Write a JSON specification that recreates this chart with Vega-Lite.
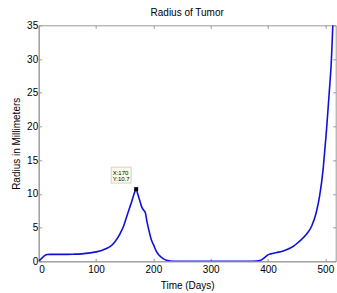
{
  "$schema": "https://vega.github.io/schema/vega-lite/v6.json",
  "width": 297,
  "height": 236,
  "autosize": {"type": "none"},
  "padding": {"left": 38.7, "top": 25.3, "right": 1, "bottom": 32},
  "background": "white",
  "title": {"text": "Radius of Tumor", "font": "Liberation Sans", "fontSize": 10, "fontWeight": "normal", "color": "black", "baseline": "alphabetic", "offset": 8, "dy": 14},
  "config": {
    "view": {"stroke": "#9a9a9a", "strokeWidth": 1},
    "axis": {
      "labelFont": "Liberation Sans", "labelFontSize": 10, "labelColor": "black",
      "titleFont": "Liberation Sans", "titleFontSize": 10, "titleFontWeight": "normal", "titleColor": "black",
      "domainColor": "#9a9a9a", "tickColor": "#9a9a9a", "tickSize": -3, "grid": false, "labelPadding": 6
    }
  },
  "datasets": {
    "curve": [
      {"day": 0, "radius": 0}, {"day": 3, "radius": 0.25}, {"day": 6, "radius": 0.5}, {"day": 9, "radius": 0.75},
      {"day": 12, "radius": 0.95}, {"day": 15, "radius": 1.0}, {"day": 20, "radius": 1.02}, {"day": 40, "radius": 1.02},
      {"day": 60, "radius": 1.05}, {"day": 75, "radius": 1.1}, {"day": 90, "radius": 1.25}, {"day": 100, "radius": 1.4},
      {"day": 110, "radius": 1.6}, {"day": 118, "radius": 1.9}, {"day": 125, "radius": 2.2}, {"day": 133, "radius": 2.9},
      {"day": 142, "radius": 4.1}, {"day": 148, "radius": 5.2}, {"day": 153, "radius": 6.5}, {"day": 158, "radius": 7.8},
      {"day": 162, "radius": 8.8}, {"day": 166, "radius": 9.9}, {"day": 170, "radius": 10.7}, {"day": 173, "radius": 9.9},
      {"day": 176, "radius": 9.1}, {"day": 180, "radius": 8.0}, {"day": 183, "radius": 7.6}, {"day": 186, "radius": 7.2},
      {"day": 189, "radius": 5.8}, {"day": 192, "radius": 4.7}, {"day": 196, "radius": 3.3}, {"day": 200, "radius": 2.5},
      {"day": 205, "radius": 1.5}, {"day": 210, "radius": 0.9}, {"day": 217, "radius": 0.4}, {"day": 223, "radius": 0.15},
      {"day": 229, "radius": 0.05}, {"day": 237, "radius": 0}, {"day": 260, "radius": 0}, {"day": 300, "radius": 0},
      {"day": 350, "radius": 0}, {"day": 380, "radius": 0.02}, {"day": 386, "radius": 0.1}, {"day": 391, "radius": 0.35},
      {"day": 396, "radius": 0.7}, {"day": 400, "radius": 0.95}, {"day": 405, "radius": 1.1}, {"day": 415, "radius": 1.3},
      {"day": 425, "radius": 1.5}, {"day": 432, "radius": 1.7}, {"day": 444, "radius": 2.2}, {"day": 455, "radius": 3.0},
      {"day": 467, "radius": 4.0}, {"day": 476, "radius": 5.2}, {"day": 484, "radius": 7.2}, {"day": 490, "radius": 9.7},
      {"day": 496, "radius": 13.6}, {"day": 499, "radius": 16.5}, {"day": 502, "radius": 19.5}, {"day": 505, "radius": 23},
      {"day": 508, "radius": 26.5}, {"day": 510, "radius": 29}, {"day": 513, "radius": 35}
    ],
    "tip": [
      {"day": 170, "radius": 10.7, "label": "X:170\nY:10.7"}
    ]
  },
  "resolve": {"axis": {"x": "independent", "y": "independent"}},
  "layer": [
    {
      "data": {"name": "curve"},
      "mark": {"type": "line", "color": "#1010dd", "strokeWidth": 1.6, "clip": true, "interpolate": "monotone"},
      "encoding": {
        "x": {"field": "day", "type": "quantitative", "scale": {"domain": [0, 518], "nice": false, "zero": false},
          "axis": {"orient": "bottom", "values": [0, 100, 200, 300, 400, 500], "title": "Time (Days)", "titleX": 148.5, "titleY": 27, "titleBaseline": "alphabetic", "titleAnchor": null}},
        "y": {"field": "radius", "type": "quantitative", "scale": {"domain": [0, 35], "nice": false},
          "axis": {"orient": "left", "values": [0, 5, 10, 15, 20, 25, 30, 35], "title": "Radius in Millimeters", "titleX": -19.4, "titleY": 118, "titleAngle": -90, "titleBaseline": "alphabetic", "titleAlign": "center", "labelPadding": 4}}
      }
    },
    {
      "data": {"name": "tip"},
      "mark": {"type": "point", "shape": "M -25 -22 H -5 V -6 H -25 Z", "size": 4, "filled": true, "fill": "#fbfbe3", "stroke": "#c8c8c8", "strokeWidth": 0.8, "opacity": 1},
      "encoding": {
        "x": {"field": "day", "type": "quantitative", "axis": {"orient": "top", "labels": false, "title": null, "domain": false, "values": [0, 100, 200, 300, 400, 500]}},
        "y": {"field": "radius", "type": "quantitative", "axis": {"orient": "right", "labels": false, "title": null, "domain": false, "values": [0, 5, 10, 15, 20, 25, 30, 35]}}
      }
    },
    {
      "data": {"name": "tip"},
      "mark": {"type": "text", "align": "left", "baseline": "top", "dx": -23.5, "dy": -19.6, "font": "Liberation Sans", "fontSize": 6, "lineHeight": 6, "lineBreak": "\n", "color": "black"},
      "encoding": {
        "x": {"field": "day", "type": "quantitative", "axis": null},
        "y": {"field": "radius", "type": "quantitative", "axis": null},
        "text": {"field": "label"}
      }
    },
    {
      "data": {"name": "tip"},
      "mark": {"type": "point", "shape": "square", "size": 16, "filled": true, "color": "black", "opacity": 1},
      "encoding": {
        "x": {"field": "day", "type": "quantitative", "axis": null},
        "y": {"field": "radius", "type": "quantitative", "axis": null}
      }
    }
  ]
}
